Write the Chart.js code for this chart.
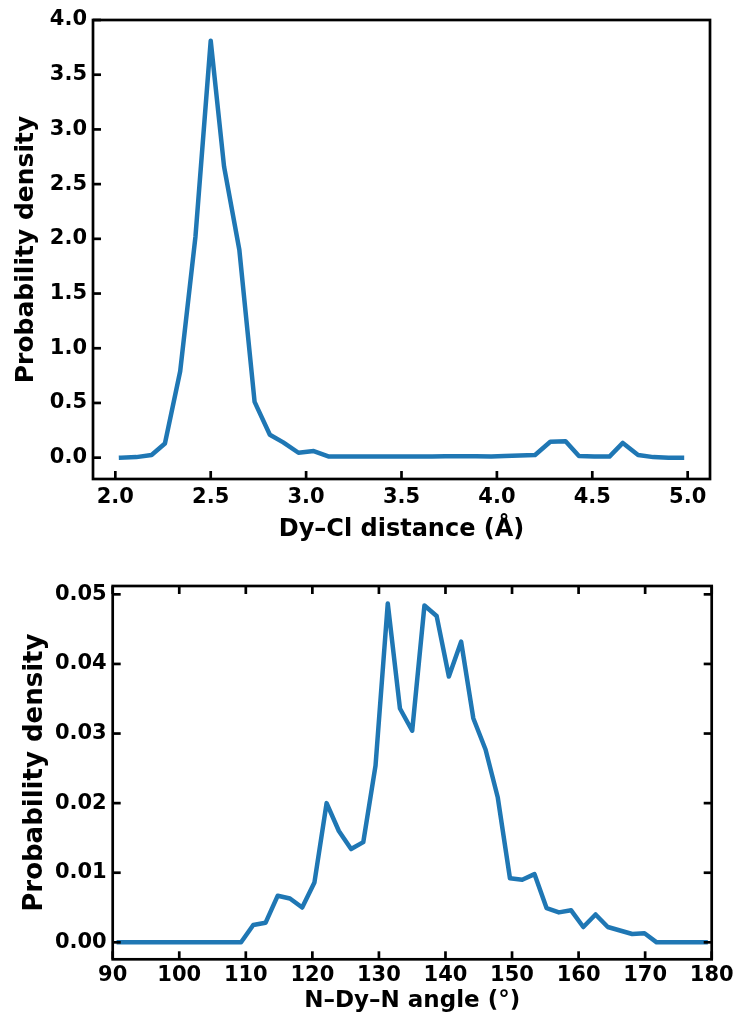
<!DOCTYPE html>
<html>
<head>
<meta charset="utf-8">
<script src="https://cdn.jsdelivr.net/npm/chart.js@4"></script>
<style>
  body { margin: 0; background: #fff; }
  #wrap { position: relative; width: 736px; height: 1017px; }
  canvas { position: absolute; left: 0; }
  #dycl-chart { top: 0; }
  #angle-chart { top: 550px; }
</style>
</head>
<body>
<div id="wrap">
  <canvas id="dycl-chart" width="736" height="550"></canvas>
  <canvas id="angle-chart" width="736" height="467"></canvas>
</div>
<script>
// Dy-Cl distance distribution (top panel)
const dyclDistance = [2.03, 2.11, 2.19, 2.26, 2.34, 2.42, 2.50, 2.57, 2.65, 2.73,
  2.81, 2.88, 2.96, 3.04, 3.12, 3.19, 3.27, 3.35, 3.42, 3.50,
  3.58, 3.66, 3.73, 3.81, 3.89, 3.97, 4.04, 4.12, 4.20, 4.28,
  4.36, 4.43, 4.51, 4.59, 4.66, 4.74, 4.82, 4.90, 4.97];
const dyclDensity = [0.0, 0.005, 0.025, 0.13, 0.79, 2.02, 3.81, 2.66, 1.9, 0.51,
  0.21, 0.14, 0.045, 0.06, 0.01, 0.01, 0.01, 0.01, 0.01, 0.01,
  0.01, 0.01, 0.012, 0.012, 0.012, 0.01, 0.015, 0.02, 0.025, 0.145,
  0.15, 0.015, 0.01, 0.01, 0.135, 0.025, 0.005, 0.0, 0.0];

// N-Dy-N angle distribution (bottom panel)
const ndnAngle = [90.92, 92.76, 94.59, 96.43, 98.27, 100.10, 101.94, 103.78, 105.61, 107.45,
  109.29, 111.12, 112.96, 114.80, 116.63, 118.47, 120.31, 122.14, 123.98, 125.82,
  127.65, 129.49, 131.33, 133.16, 135.00, 136.84, 138.67, 140.51, 142.35, 144.18,
  146.02, 147.86, 149.69, 151.53, 153.37, 155.20, 157.04, 158.88, 160.71, 162.55,
  164.39, 166.22, 168.06, 169.90, 171.73, 173.57, 175.41, 177.24, 179.08];
const ndnDensity = [0, 0, 0, 0, 0, 0, 0, 0, 0, 0,
  0, 0.0025, 0.0028, 0.0067, 0.0063, 0.0050, 0.0086, 0.0200, 0.0160, 0.0134,
  0.0144, 0.0254, 0.0487, 0.0336, 0.0304, 0.0484, 0.0469, 0.0382, 0.0432, 0.0322,
  0.0277, 0.0208, 0.0092, 0.0090, 0.0098, 0.0049, 0.0043, 0.0046, 0.0022, 0.0040,
  0.0022, 0.0017, 0.0012, 0.0013, 0, 0, 0, 0, 0];

const lineColor = "#1f77b4";

Chart.defaults.font.family = "'DejaVu Sans', sans-serif";
Chart.defaults.font.weight = "bold";
Chart.defaults.color = "#000";

// box frame + inward tick marks, positions taken from the scales
const frameTicks = {
  id: "frameTicks",
  afterDraw(chart, args, opts) {
    const { ctx, chartArea: a, scales } = chart;
    const len = opts.length;
    ctx.save();
    ctx.strokeStyle = "#000";
    ctx.lineWidth = opts.width;
    ctx.lineCap = "butt";
    ctx.strokeRect(a.left, a.top, a.right - a.left, a.bottom - a.top);

    function seg(x1, y1, x2, y2) {
      ctx.beginPath();
      ctx.moveTo(x1, y1);
      ctx.lineTo(x2, y2);
      ctx.stroke();
    }

    scales.x.ticks.forEach(t => {
      const px = scales.x.getPixelForValue(t.value);
      seg(px, a.bottom, px, a.bottom - len);
      if (opts.allSides) seg(px, a.top, px, a.top + len);
    });
    scales.y.ticks.forEach(t => {
      const py = scales.y.getPixelForValue(t.value);
      seg(a.left, py, a.left + len, py);
      if (opts.allSides) seg(a.right, py, a.right - len, py);
    });
    ctx.restore();
  }
};

function fixSize(prop, size) {
  return function (scale) {
    scale[prop] = size;
    scale.paddingTop = 0;
    scale.paddingBottom = 0;
    scale.paddingLeft = 0;
    scale.paddingRight = 0;
  };
}

function buildChart(canvas, cfg) {
  const points = cfg.xs.map((x, i) => ({ x: x, y: cfg.ys[i] }));

  return new Chart(canvas, {
    type: "line",
    data: {
      datasets: [{
        data: points,
        borderColor: lineColor,
        borderWidth: 4.5,
        borderJoinStyle: "round",
        borderCapStyle: "square",
        pointRadius: 0,
        tension: 0,
        fill: false
      }]
    },
    options: {
      responsive: false,
      animation: false,
      layout: { padding: cfg.padding },
      plugins: {
        legend: { display: false },
        tooltip: { enabled: false },
        frameTicks: { width: 2.7, length: 8, allSides: cfg.allSides }
      },
      scales: {
        x: {
          type: "linear",
          min: cfg.xMin,
          max: cfg.xMax,
          grid: { display: false, drawTicks: false },
          border: { display: false },
          ticks: {
            stepSize: cfg.xStep,
            includeBounds: false,
            padding: cfg.xPad,
            font: { size: 21 },
            maxRotation: 0,
            callback: cfg.xFormat
          },
          title: {
            display: true,
            text: cfg.xTitle,
            font: { size: cfg.xTitleSize },
            padding: { top: cfg.xTitlePad, bottom: cfg.xTitlePad }
          },
          afterFit: fixSize("height", cfg.xHeight)
        },
        y: {
          min: cfg.yMin,
          max: cfg.yMax,
          grid: { display: false, drawTicks: false },
          border: { display: false },
          ticks: {
            stepSize: cfg.yStep,
            includeBounds: false,
            padding: 6,
            font: { size: 21 },
            callback: cfg.yFormat
          },
          title: {
            display: true,
            text: "Probability density",
            font: { size: cfg.yTitleSize },
            padding: { top: cfg.yTitlePad, bottom: cfg.yTitlePad }
          },
          afterFit: fixSize("width", cfg.yWidth)
        }
      }
    },
    plugins: [frameTicks]
  });
}

buildChart(document.getElementById("dycl-chart"), {
  xs: dyclDistance,
  ys: dyclDensity,
  padding: { left: 0, right: 26, top: 20, bottom: 0 },
  allSides: false,
  xMin: 1.883, xMax: 5.117, xStep: 0.5,
  yMin: -0.195, yMax: 4.0, yStep: 0.5,
  xFormat: v => Number(v).toFixed(1),
  yFormat: v => Number(v).toFixed(1),
  xPad: 6,
  xTitle: "Dy–Cl distance (Å)",
  xTitleSize: 24,
  xTitlePad: 6,
  xHeight: 71,
  yTitleSize: 25,
  yTitlePad: 11,
  yWidth: 93
});

buildChart(document.getElementById("angle-chart"), {
  xs: ndnAngle,
  ys: ndnDensity,
  padding: { left: 0, right: 24.3, top: 36, bottom: 0 },
  allSides: true,
  xMin: 90, xMax: 180, xStep: 10,
  yMin: -0.00244, yMax: 0.0512, yStep: 0.01,
  xFormat: v => String(Math.round(v)),
  yFormat: v => Number(v).toFixed(2),
  xPad: 4,
  xTitle: "N–Dy–N angle (°)",
  xTitleSize: 23,
  xTitlePad: 2,
  xHeight: 57.7,
  yTitleSize: 26,
  yTitlePad: 20,
  yWidth: 112.7
});
</script>
</body>
</html>
